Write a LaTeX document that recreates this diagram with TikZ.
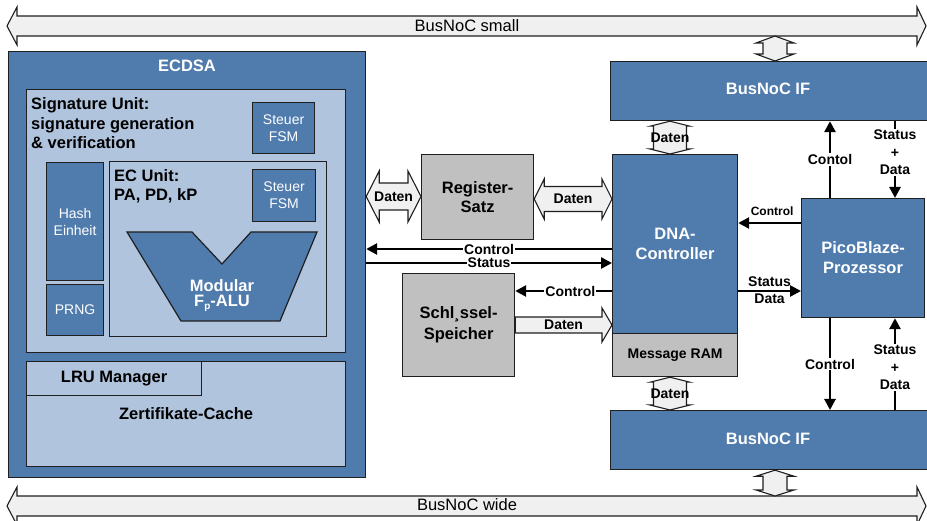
\documentclass[tikz,border=0pt]{standalone}
\usepackage{fontspec}
\setmainfont{Liberation Sans}
\usetikzlibrary{arrows.meta}

\definecolor{ecblue}{HTML}{4F7BAD}
\definecolor{eclight}{HTML}{B0C4DE}
\definecolor{ecgrey}{HTML}{C0C0C0}
\definecolor{ecedge}{HTML}{1F1F1F}
\definecolor{arrowfill}{HTML}{F0F0F0}

% font sizes (the picture is drawn 1pt per unit)
\newcommand\ftbig{\fontsize{16.5}{19.5}\selectfont\bfseries}
\newcommand\ftmid{\fontsize{14}{17.5}\selectfont\bfseries}
\newcommand\ftsm{\fontsize{12}{14}\selectfont\bfseries}
\newcommand\ftreg{\fontsize{14}{17}\selectfont}
\newcommand\ftbus{\fontsize{16.5}{19}\selectfont}

% vertical double block arrow: top tip, bottom tip, head half width, shaft half width, head depth
\newcommand\vdblarrow[5]{%
  \draw[blockarrow] (#1) -- ([xshift=#3,yshift=-#5]#1) -- ([xshift=#4,yshift=-#5]#1)
    -- ([xshift=#4,yshift=#5]#2) -- ([xshift=#3,yshift=#5]#2) -- (#2)
    -- ([xshift=-#3,yshift=#5]#2) -- ([xshift=-#4,yshift=#5]#2)
    -- ([xshift=-#4,yshift=-#5]#1) -- ([xshift=-#3,yshift=-#5]#1) -- cycle;}
% horizontal double block arrow: left tip, right tip, head half height, shaft half height, head depth
\newcommand\hdblarrow[5]{%
  \draw[blockarrow] (#1) -- ([xshift=#5,yshift=#3]#1) -- ([xshift=#5,yshift=#4]#1)
    -- ([xshift=-#5,yshift=#4]#2) -- ([xshift=-#5,yshift=#3]#2) -- (#2)
    -- ([xshift=-#5,yshift=-#3]#2) -- ([xshift=-#5,yshift=-#4]#2)
    -- ([xshift=#5,yshift=-#4]#1) -- ([xshift=#5,yshift=-#3]#1) -- cycle;}

\begin{document}
\begin{tikzpicture}[x=1pt,y=-1pt,
  box/.style={draw=ecedge, line width=1.2pt, inner sep=0pt, anchor=north west, align=center},
  bluebox/.style={box, fill=ecblue, text=white},
  lightbox/.style={box, fill=eclight},
  greybox/.style={box, fill=ecgrey},
  wire/.style={line width=2.6pt, -{Triangle[length=11pt,width=11pt]}},
  wirelabel/.style={fill=white, inner sep=1pt, font=\ftmid, align=center},
  blockarrow/.style={draw=ecedge, fill=arrowfill, line width=1.1pt, line join=miter},
  whitetext/.style={text=white, align=center}]

\fill[white] (0,0) rectangle (927,521);
\useasboundingbox (0,0) rectangle (927,521);

% ---------- system buses ----------
\draw[blockarrow] (7,26) -- (17,7) -- (17,16) -- (917,16) -- (917,7) -- (926,26)
  -- (917,45) -- (917,36) -- (17,36) -- (17,45) -- cycle;
\node[font=\ftbus] (smalllabel) at (467,26) {BusNoC small};
\draw[blockarrow] (7,506) -- (17,487) -- (17,496) -- (917,496) -- (917,487) -- (926,506)
  -- (917,525) -- (917,516) -- (17,516) -- (17,525) -- cycle;
\node[font=\ftbus] (widelabel) at (467,505) {BusNoC wide};
\coordinate (smallbus) at (775,36);
\coordinate (widebus) at (775,496);

% ---------- ECDSA block ----------
\node[bluebox, minimum width=357pt, minimum height=426pt] (ecdsa) at (8,51) {};
\node[font=\ftbig, text=white] (ecdsatitle) at (187,66) {ECDSA};

\node[lightbox, minimum width=319pt, minimum height=263pt] (sigunit) at (26,89) {};
\node[font=\ftbig, align=left, anchor=west, inner sep=0pt] (sigtext) at (31,123.5)
  {Signature Unit:\\signature generation\\\& verification};
\node[bluebox, minimum width=62pt, minimum height=51pt, font=\ftreg] (fsmsig) at (252,102) {Steuer\\FSM};

\node[bluebox, minimum width=57pt, minimum height=118pt, font=\ftreg] (hash) at (46,162) {Hash\\Einheit};
\node[bluebox, minimum width=57pt, minimum height=51pt, font=\ftreg] (prng) at (46,284) {PRNG};

\node[lightbox, minimum width=217pt, minimum height=175pt] (ecunit) at (109,161) {};
\node[font=\ftbig, align=left, anchor=west, inner sep=0pt] (ectext) at (114,186.5) {EC Unit:\\PA, PD, kP};
\node[bluebox, minimum width=63pt, minimum height=52pt, font=\ftreg] (fsmec) at (252,169) {Steuer\\FSM};

\draw[draw=ecedge, fill=ecblue, line width=1.2pt, line join=miter]
  (127,232) -- (192,232) -- (222,264) -- (251,232) -- (317,232) -- (280,321) -- (181,321) -- cycle;
\node[whitetext, font=\fontsize{16.5}{15}\selectfont\bfseries] (alu) at (222,295.5)
  {Modular\\F\raisebox{-0.22em}{\fontsize{10}{10}\selectfont p}-ALU};

\node[lightbox, minimum width=319pt, minimum height=105pt, font=\ftbig] (cache) at (26,361) {Zertifikate-Cache};
\node[lightbox, minimum width=175pt, minimum height=34pt, font=\ftbig] (lru) at (26,361) {LRU Manager};

% ---------- middle blocks ----------
\node[greybox, minimum width=112pt, minimum height=85pt, font=\ftbig] (regsatz) at (421,154) {Register-\\Satz};
\node[greybox, minimum width=112pt, minimum height=103pt,
  font=\fontsize{16.5}{21}\selectfont\bfseries] (schl) at (402,273) {Schl¸ssel-\\Speicher};

% ---------- right blocks ----------
\node[bluebox, minimum width=320pt, minimum height=59pt] (ifup) at (610,61) {};
\node[font=\ftbig, text=white] (ifuptext) at (768,89) {BusNoC IF};
\node[bluebox, minimum width=125pt, minimum height=179pt,
  font=\fontsize{16.5}{20}\selectfont\bfseries] (dna) at (612,154) {DNA-\\Controller};
\node[greybox, minimum width=125pt, minimum height=43pt, font=\ftmid] (msgram) at (612,333) {Message RAM};
\node[bluebox, minimum width=123pt, minimum height=119pt,
  font=\fontsize{16.5}{20}\selectfont\bfseries] (pico) at (801,198) {PicoBlaze-\\Prozessor};
\node[bluebox, minimum width=320pt, minimum height=59pt] (ifdown) at (610,410) {};
\node[font=\ftbig, text=white] (ifdowntext) at (768,439) {BusNoC IF};

% ---------- block arrows (data paths) ----------
\vdblarrow{smallbus}{ifup.north -| smallbus}{19pt}{12pt}{7pt}
\vdblarrow{ifdown.south -| widebus}{widebus}{19pt}{12pt}{6pt}

\hdblarrow{ecdsa.east |- 0,196.5}{regsatz.west |- 0,196.5}{25.5pt}{13.5pt}{13pt}
\path (ecdsa.east |- 0,196.5) -- node[font=\ftmid] {Daten} (regsatz.west |- 0,196.5);

\hdblarrow{regsatz.east |- 0,199}{dna.west |- 0,199}{20pt}{12.5pt}{10pt}
\path (regsatz.east |- 0,199) -- node[font=\ftmid] {Daten} (dna.west |- 0,199);

\draw[blockarrow] ([yshift=8pt]schl.east |- 0,325) -- ([xshift=-10pt,yshift=8pt]dna.west |- 0,325)
  -- ([xshift=-10pt,yshift=17pt]dna.west |- 0,325) -- (dna.west |- 0,325)
  -- ([xshift=-10pt,yshift=-17pt]dna.west |- 0,325) -- ([xshift=-10pt,yshift=-8pt]dna.west |- 0,325)
  -- ([yshift=-8pt]schl.east |- 0,325) -- cycle;
\path (schl.east |- 0,325) -- node[font=\ftmid] {Daten} (dna.west |- 0,325);

\vdblarrow{ifup.south -| 670,0}{dna.north -| 670,0}{20pt}{16.5pt}{5pt}
\path (ifup.south -| 670,0) -- node[font=\ftmid] {Daten} (dna.north -| 670,0);
\vdblarrow{msgram.south -| 670,0}{ifdown.north -| 670,0}{20pt}{16.5pt}{5pt}
\path (msgram.south -| 670,0) -- node[font=\ftmid] {Daten} (ifdown.north -| 670,0);

% ---------- control and status wires ----------
\draw[wire] (dna.west |- 0,249) -- node[wirelabel] {Control} (ecdsa.east |- 0,249);
\draw[wire] (ecdsa.east |- 0,263) -- node[wirelabel] {Status} (dna.west |- 0,263);
\draw[wire] (dna.west |- 0,291) -- node[wirelabel, pos=0.43] {Control} (schl.east |- 0,291);

\draw[wire] (pico.west |- 0,223) -- node[font=\ftsm, pos=0.46, yshift=12pt] {Control} (dna.east |- 0,223);
\draw[wire] (dna.east |- 0,291) -- node[font=\ftmid, yshift=9pt] {Status}
  node[font=\ftmid, yshift=-8pt] {Data} (pico.west |- 0,291);

\draw[wire] (pico.north -| 830,0) -- node[wirelabel] {Contol} (ifup.south -| 830,0);
\draw[wire] (ifup.south -| 895,0) -- node[wirelabel, pos=0.404] {Status\\+\\Data} (pico.north -| 895,0);
\draw[wire] (pico.south -| 830,0) -- node[wirelabel] {Control} (ifdown.north -| 830,0);
\draw[wire] (ifdown.north -| 895,0) -- node[wirelabel, pos=0.462] {Status\\+\\Data} (pico.south -| 895,0);

\end{tikzpicture}
\end{document}
